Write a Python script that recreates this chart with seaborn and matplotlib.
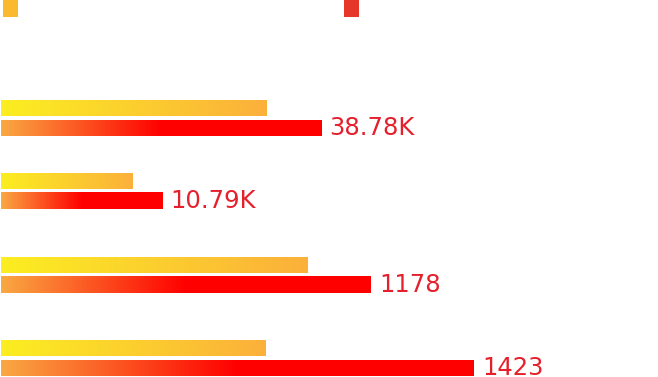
import matplotlib
matplotlib.use("Agg")
import matplotlib.pyplot as plt
from matplotlib.colors import LinearSegmentedColormap
from matplotlib.patches import Patch
import numpy as np
import pandas as pd
import seaborn as sns

# ---------------- data ----------------
rows = ["Row 1", "Row 2", "Row 3", "Row 4"]
series = ["Series A", "Series B"]
series_a = [32115, 8846, 977, 797]          # upper (yellow) bars, unlabeled
series_b = [38780, 10790, 1178, 1423]       # lower (red) bars
series_b_labels = ["38.78K", "10.79K", "1178", "1423"]

# ---------------- style / layout ----------------
W, H = 658, 377
legend_colors = ["#FBB92F", "#E6382A"]
label_color = "#E4202C"
row_top_center_px = [108, 181, 265, 348]     # pixel centre of upper bar in each row
row_xmax = [79620, 44031, 2092, 1977]        # each row has its own scale

cmap_a = LinearSegmentedColormap.from_list("a", ["#FCEE21", "#FBB03B"])
cmap_b = LinearSegmentedColormap.from_list(
    "b", [(0.0, "#F9A843"), (0.5, "#FF0000"), (1.0, "#FF0000")])
grad = np.linspace(0, 1, 256).reshape(1, -1)

sns.set_theme(style="white")
plt.rcParams["font.family"] = ["DejaVu Sans"]

fig = plt.figure(figsize=(W / 100, H / 100), dpi=100)
fig.patch.set_facecolor("white")

for i, r in enumerate(rows):
    top = row_top_center_px[i] - 11
    ax = fig.add_axes([1 / W, 1 - (top + 40) / H, 657 / W, 40 / H])
    df = pd.DataFrame({"series": series, "value": [series_a[i], series_b[i]]})
    sns.barplot(data=df, y="series", x="value", hue="series",
                palette=legend_colors, width=0.8, dodge=False,
                legend=False, ax=ax)
    for cont, cmap in zip(ax.containers, [cmap_a, cmap_b]):
        p = cont[0]
        x0, y0, w, h = p.get_x(), p.get_y(), p.get_width(), p.get_height()
        ax.imshow(grad, extent=(x0, x0 + w, y0 + h, y0), aspect="auto",
                  cmap=cmap, zorder=3, interpolation="bilinear")
        p.set_facecolor("none")
        p.set_edgecolor("none")
    ax.bar_label(ax.containers[1], labels=[series_b_labels[i]], padding=6,
                 color=label_color, fontsize=17.5)
    ax.set_xlim(0, row_xmax[i])
    ax.set_ylim(1.45, -0.55)
    ax.axis("off")

handles = [Patch(facecolor=c, edgecolor="none") for c in legend_colors]
fig.legend(handles, ["", ""], loc="upper left", bbox_to_anchor=(3 / W, 1.0),
           ncol=2, frameon=False, borderpad=0, borderaxespad=0,
           handlelength=1.08, handleheight=1.5, handletextpad=0,
           columnspacing=23.5, fontsize=10)

fig.savefig("out.png", dpi=100, facecolor="white")
